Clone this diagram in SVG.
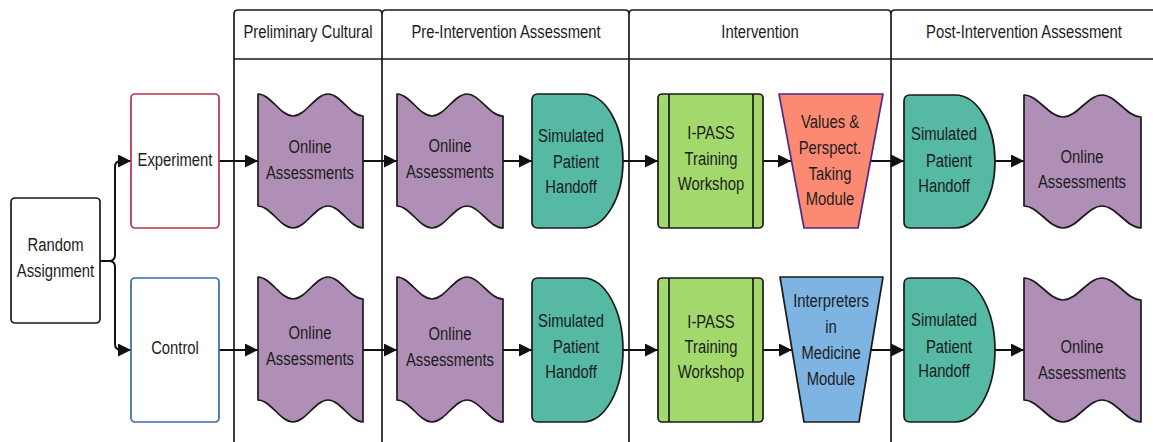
<svg xmlns="http://www.w3.org/2000/svg" width="1153" height="442" viewBox="0 0 1153 442">
  <style>
    .t { font-family: "Liberation Sans", Arial, sans-serif; font-size: 19px; fill: #1c1c1c; text-anchor: middle; }
    .lane { fill: none; stroke: #1a1a1a; stroke-width: 1.7; }
    .tape { fill: #b08fb7; stroke: #1a1a1a; stroke-width: 1.7; stroke-linejoin: round; }
    .delay { fill: #56b9a4; stroke: #1a1a1a; stroke-width: 1.7; }
    .proc { fill: #a2d86c; stroke: #1a1a1a; stroke-width: 1.7; }
    .conn { fill: none; stroke: #111; stroke-width: 2; marker-end: url(#arrow); }
  </style>
  <defs>
    <marker id="arrow" viewBox="0 0 13 13" markerWidth="13" markerHeight="13" refX="13" refY="6.5" orient="auto" markerUnits="userSpaceOnUse">
      <path d="M0,0 L13,6.5 L0,13 Z" fill="#111"/>
    </marker>
  </defs>
  <rect width="1153" height="442" fill="#fff"/>

  <!-- swimlane columns; labels use a condensed horizontal scale -->
  <g id="lanes">
    <path class="lane" d="M234,442 V14 Q234,10 238,10 H378 Q382,10 382,14 V442"/>
    <path class="lane" d="M382,14 Q382,10 386,10 H625 Q629,10 629,14 V442"/>
    <path class="lane" d="M629,14 Q629,10 633,10 H887 Q891,10 891,14 V442"/>
    <path class="lane" d="M891,14 Q891,10 895,10 H1160"/>
    <line class="lane" x1="234" y1="59" x2="1153" y2="59"/>
    <text class="t" transform="matrix(0.78,0,0,1,308,0)" y="38">Preliminary Cultural</text>
    <text class="t" transform="matrix(0.78,0,0,1,506,0)" y="38">Pre-Intervention Assessment</text>
    <text class="t" transform="matrix(0.78,0,0,1,760,0)" y="38">Intervention</text>
    <text class="t" transform="matrix(0.78,0,0,1,1024,0)" y="38">Post-Intervention Assessment</text>
  </g>

  <!-- connectors -->
  <g id="connectors">
    <path class="conn" d="M100,261 H109 Q115,261 115,255 V167 Q115,161 121,161 H131"/>
    <path class="conn" d="M100,261 H109 Q115,261 115,267 V344 Q115,350 121,350 H131"/>
    <path class="conn" d="M219,161 H258"/>
    <path class="conn" d="M363,161 H397"/>
    <path class="conn" d="M503,161 H532"/>
    <path class="conn" d="M623,161 H658"/>
    <path class="conn" d="M763,161 H791"/>
    <path class="conn" d="M871,161 H904"/>
    <path class="conn" d="M995,161 H1024"/>
    <path class="conn" d="M219,350 H258"/>
    <path class="conn" d="M363,350 H397"/>
    <path class="conn" d="M503,350 H532"/>
    <path class="conn" d="M623,350 H658"/>
    <path class="conn" d="M763,350 H792"/>
    <path class="conn" d="M871,350 H904"/>
    <path class="conn" d="M995,350 H1024"/>
  </g>

  <g id="random-assignment">
    <rect x="11" y="198" width="89" height="125" rx="4" fill="#fff" stroke="#1a1a1a" stroke-width="1.7"/>
    <text class="t" transform="matrix(0.78,0,0,1,55.5,0)" y="251">Random</text>
    <text class="t" transform="matrix(0.78,0,0,1,55.5,0)" y="277">Assignment</text>
  </g>

  <g id="experiment">
    <rect x="131" y="94" width="88" height="134" rx="4" fill="#fff" stroke="#b8324a" stroke-width="1.7"/>
    <text class="t" transform="matrix(0.78,0,0,1,175,0)" y="166">Experiment</text>
  </g>
  <g id="control">
    <rect x="131" y="278" width="88" height="144" rx="4" fill="#fff" stroke="#3c69a6" stroke-width="1.7"/>
    <text class="t" transform="matrix(0.78,0,0,1,175,0)" y="354">Control</text>
  </g>

  <!-- Preliminary Cultural -->
  <g id="exp-online-1">
    <path class="tape" transform="translate(258,94)" d="M0,0 C12.75,0 22.25,22 35,22 C47.75,22 57.25,0 70,0 C82.75,0 92.25,22 105,22 L105,134 C92.25,134 82.75,112 70,112 C57.25,112 47.75,134 35,134 C22.25,134 12.75,112 0,112 Z"/>
    <text class="t" transform="matrix(0.78,0,0,1,310,0)" y="153">Online</text>
    <text class="t" transform="matrix(0.78,0,0,1,310,0)" y="179">Assessments</text>
  </g>
  <g id="ctl-online-1">
    <path class="tape" transform="translate(258,277)" d="M0,0 C12.75,0 22.25,22 35,22 C47.75,22 57.25,0 70,0 C82.75,0 92.25,22 105,22 L105,145 C92.25,145 82.75,123 70,123 C57.25,123 47.75,145 35,145 C22.25,145 12.75,123 0,123 Z"/>
    <text class="t" transform="matrix(0.78,0,0,1,310,0)" y="339">Online</text>
    <text class="t" transform="matrix(0.78,0,0,1,310,0)" y="365">Assessments</text>
  </g>

  <!-- Pre-Intervention Assessment -->
  <g id="exp-online-2">
    <path class="tape" transform="translate(397,94)" d="M0,0 C12.75,0 22.25,22 35,22 C47.75,22 57.25,0 70,0 C82.75,0 92.25,22 106,22 L106,134 C92.25,134 82.75,112 70,112 C57.25,112 47.75,134 35,134 C22.25,134 12.75,112 0,112 Z"/>
    <text class="t" transform="matrix(0.78,0,0,1,450,0)" y="152">Online</text>
    <text class="t" transform="matrix(0.78,0,0,1,450,0)" y="178">Assessments</text>
  </g>
  <g id="ctl-online-2">
    <path class="tape" transform="translate(397,277)" d="M0,0 C12.75,0 22.25,22 35,22 C47.75,22 57.25,0 70,0 C82.75,0 92.25,22 106,22 L106,145 C92.25,145 82.75,123 70,123 C57.25,123 47.75,145 35,145 C22.25,145 12.75,123 0,123 Z"/>
    <text class="t" transform="matrix(0.78,0,0,1,450,0)" y="340">Online</text>
    <text class="t" transform="matrix(0.78,0,0,1,450,0)" y="366">Assessments</text>
  </g>
  <g id="exp-handoff-1">
    <path class="delay" transform="translate(532,94)" d="M6,0 H51 A40,67 0 0 1 51,134 H6 Q0,134 0,128 V6 Q0,0 6,0 Z"/>
    <text class="t" transform="matrix(0.78,0,0,1,571,0)" y="142">Simulated</text>
    <text class="t" transform="matrix(0.78,0,0,1,576,0)" y="168">Patient</text>
    <text class="t" transform="matrix(0.78,0,0,1,571,0)" y="193">Handoff</text>
  </g>
  <g id="ctl-handoff-1">
    <path class="delay" transform="translate(532,278)" d="M6,0 H51 A40,72 0 0 1 51,144 H6 Q0,144 0,138 V6 Q0,0 6,0 Z"/>
    <text class="t" transform="matrix(0.78,0,0,1,571,0)" y="327">Simulated</text>
    <text class="t" transform="matrix(0.78,0,0,1,576,0)" y="353">Patient</text>
    <text class="t" transform="matrix(0.78,0,0,1,571,0)" y="378">Handoff</text>
  </g>

  <!-- Intervention -->
  <g id="exp-ipass">
    <rect class="proc" x="658" y="94" width="105" height="134" rx="4"/>
    <line class="proc" x1="669" y1="94" x2="669" y2="228"/>
    <line class="proc" x1="753" y1="94" x2="753" y2="228"/>
    <text class="t" transform="matrix(0.78,0,0,1,711,0)" y="139">I-PASS</text>
    <text class="t" transform="matrix(0.78,0,0,1,711,0)" y="165">Training</text>
    <text class="t" transform="matrix(0.78,0,0,1,711,0)" y="190">Workshop</text>
  </g>
  <g id="ctl-ipass">
    <rect class="proc" x="658" y="278" width="105" height="144" rx="4"/>
    <line class="proc" x1="669" y1="278" x2="669" y2="422"/>
    <line class="proc" x1="753" y1="278" x2="753" y2="422"/>
    <text class="t" transform="matrix(0.78,0,0,1,711,0)" y="328">I-PASS</text>
    <text class="t" transform="matrix(0.78,0,0,1,711,0)" y="353">Training</text>
    <text class="t" transform="matrix(0.78,0,0,1,711,0)" y="378">Workshop</text>
  </g>
  <g id="exp-values-module">
    <path d="M779,94 H883 L858,228 H804 Z" fill="#fc8a73" stroke="#4e2a88" stroke-width="1.7" stroke-linejoin="round"/>
    <text class="t" transform="matrix(0.78,0,0,1,830,0)" y="128">Values &amp;</text>
    <text class="t" transform="matrix(0.78,0,0,1,830,0)" y="154">Perspect.</text>
    <text class="t" transform="matrix(0.78,0,0,1,830,0)" y="180">Taking</text>
    <text class="t" transform="matrix(0.78,0,0,1,830,0)" y="205">Module</text>
  </g>
  <g id="ctl-interpreters-module">
    <path d="M780,277 H883 L859,422 H804 Z" fill="#7db4e2" stroke="#1a1a1a" stroke-width="1.7" stroke-linejoin="round"/>
    <text class="t" transform="matrix(0.78,0,0,1,831,0)" y="307">Interpreters</text>
    <text class="t" transform="matrix(0.78,0,0,1,831,0)" y="333">in</text>
    <text class="t" transform="matrix(0.78,0,0,1,831,0)" y="359">Medicine</text>
    <text class="t" transform="matrix(0.78,0,0,1,831,0)" y="385">Module</text>
  </g>

  <!-- Post-Intervention Assessment -->
  <g id="exp-handoff-2">
    <path class="delay" transform="translate(904,95)" d="M6,0 H51 A40,66.5 0 0 1 51,133 H6 Q0,133 0,127 V6 Q0,0 6,0 Z"/>
    <text class="t" transform="matrix(0.78,0,0,1,944,0)" y="140">Simulated</text>
    <text class="t" transform="matrix(0.78,0,0,1,949,0)" y="167">Patient</text>
    <text class="t" transform="matrix(0.78,0,0,1,944,0)" y="192">Handoff</text>
  </g>
  <g id="ctl-handoff-2">
    <path class="delay" transform="translate(904,278)" d="M6,0 H51 A40,72 0 0 1 51,144 H6 Q0,144 0,138 V6 Q0,0 6,0 Z"/>
    <text class="t" transform="matrix(0.78,0,0,1,944,0)" y="326">Simulated</text>
    <text class="t" transform="matrix(0.78,0,0,1,949,0)" y="353">Patient</text>
    <text class="t" transform="matrix(0.78,0,0,1,944,0)" y="377">Handoff</text>
  </g>
  <g id="exp-online-3">
    <path class="tape" transform="translate(1024,95)" d="M0,0 C14.2,0 24.8,22 39,22 C53.2,22 63.8,0 78,0 C92.2,0 102.8,22 117,22 L117,133 C102.8,133 92.2,111 78,111 C63.8,111 53.2,133 39,133 C24.8,133 14.2,111 0,111 Z"/>
    <text class="t" transform="matrix(0.78,0,0,1,1082,0)" y="163">Online</text>
    <text class="t" transform="matrix(0.78,0,0,1,1082,0)" y="188">Assessments</text>
  </g>
  <g id="ctl-online-3">
    <path class="tape" transform="translate(1024,278)" d="M0,0 C14.2,0 24.8,22 39,22 C53.2,22 63.8,0 78,0 C92.2,0 102.8,22 117,22 L117,144 C102.8,144 92.2,122 78,122 C63.8,122 53.2,144 39,144 C24.8,144 14.2,122 0,122 Z"/>
    <text class="t" transform="matrix(0.78,0,0,1,1082,0)" y="353">Online</text>
    <text class="t" transform="matrix(0.78,0,0,1,1082,0)" y="379">Assessments</text>
  </g>
</svg>
